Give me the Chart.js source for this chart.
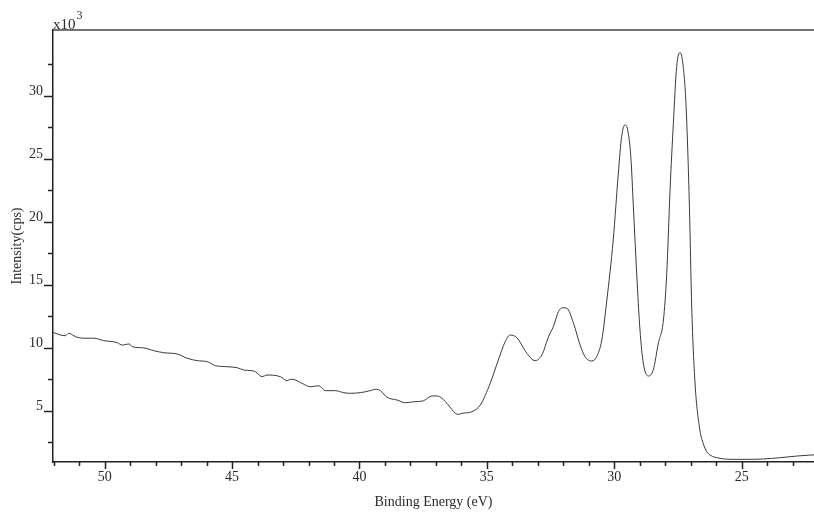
<!DOCTYPE html>
<html>
<head>
<meta charset="utf-8">
<title>Binding Energy spectrum</title>
<script src="https://cdn.jsdelivr.net/npm/chart.js@4/dist/chart.umd.min.js"></script>
<style>
    html, body { margin: 0; padding: 0; background: #fff; }
    #wrap { position: relative; width: 814px; height: 516px; }
</style>
</head>
<body>
<div id="wrap"><canvas id="spectrum"></canvas></div>
<script>
// Binding energy (eV), high to low as scanned
const energies = [
    52.01, 51.73, 51.54, 51.41, 51.14, 50.82, 50.43, 50.05, 49.51, 49.31,
    49.05, 48.92, 48.47, 48.07, 47.68, 47.16, 46.76, 46.37, 45.98, 45.65,
    45.20, 44.80, 44.55, 44.22, 44.09, 43.82, 43.63, 43.11, 42.84, 42.71,
    42.52, 42.25, 41.93, 41.60, 41.34, 40.95, 40.62, 40.36, 39.97, 39.64,
    39.34, 39.18, 38.92, 38.53, 38.20, 37.88, 37.49, 37.16, 36.96, 36.76,
    36.51, 36.24, 36.11, 35.98, 35.59, 35.26, 34.87, 34.55, 34.28, 34.09,
    33.82, 33.63, 33.43, 33.11, 32.84, 32.58, 32.39, 32.19, 32.02, 31.86,
    31.60, 31.34, 31.15, 30.88, 30.69, 30.49, 30.29, 30.04, 29.84, 29.71,
    29.58, 29.49, 29.35, 29.25, 29.12, 28.99, 28.86, 28.66, 28.47, 28.27,
    28.07, 27.94, 27.81, 27.68, 27.55, 27.42, 27.31, 27.18, 27.05, 26.96,
    26.83, 26.64, 26.51, 26.37, 26.24, 25.85, 25.33, 24.80, 24.15, 23.50,
    22.84, 22.32, 22.16
];

// Intensity in units of 10^3 cps
const intensities = [
    11.20, 11.00, 10.95, 11.14, 10.87, 10.75, 10.75, 10.56, 10.40, 10.20,
    10.30, 10.08, 9.98, 9.76, 9.60, 9.50, 9.16, 8.97, 8.89, 8.57,
    8.49, 8.41, 8.23, 8.17, 8.10, 7.70, 7.83, 7.70, 7.38, 7.49,
    7.44, 7.17, 6.90, 6.98, 6.59, 6.59, 6.43, 6.38, 6.43, 6.56,
    6.70, 6.59, 6.06, 5.85, 5.63, 5.71, 5.79, 6.17, 6.17, 5.98,
    5.45, 4.79, 4.71, 4.79, 4.92, 5.45, 7.17, 9.02, 10.48, 11.00,
    10.79, 10.21, 9.56, 8.97, 9.42, 10.87, 11.67, 12.86, 13.17, 13.13,
    11.94, 10.21, 9.29, 8.94, 9.29, 10.60, 13.79, 18.55, 23.84, 26.75,
    27.67, 27.41, 25.16, 21.19, 15.90, 11.40, 8.76, 7.75, 8.23, 10.35,
    12.20, 15.90, 22.50, 27.80, 32.30, 33.41, 32.57, 29.13, 21.19, 13.25,
    7.20, 3.47, 2.41, 1.75, 1.48, 1.22, 1.14, 1.14, 1.17, 1.27,
    1.40, 1.48, 1.50
];

const xTicks = [];
for (let v = 23; v <= 52; v++) xTicks.push(v);
const yTicks = [2.5, 5, 7.5, 10, 12.5, 15, 17.5, 20, 22.5, 25, 27.5, 30, 32.5];

const points = energies.map((e, i) => ({ x: e, y: intensities[i] }));

const serif = "'Liberation Serif', 'Times New Roman', serif";
Chart.defaults.font.family = serif;
Chart.defaults.color = "#2a2a2a";

// tick marks, top frame line and the x10^3 multiplier
const axisDecor = {
    id: "axisDecor",
    afterDraw(chart) {
        const ctx = chart.ctx;
        const area = chart.chartArea;
        const xs = chart.scales.x;
        const ys = chart.scales.y;
        ctx.save();
        ctx.strokeStyle = "#222";
        ctx.lineWidth = 1.5;
        ctx.beginPath();
        xTicks.forEach(v => {
            const px = Math.round(xs.getPixelForValue(v)) + 0.5;
            const len = v % 5 === 0 ? 7 : 4;
            ctx.moveTo(px, area.bottom);
            ctx.lineTo(px, area.bottom + len);
        });
        yTicks.forEach(v => {
            const py = Math.round(ys.getPixelForValue(v)) + 0.5;
            const len = v % 5 === 0 ? 9 : 5;
            ctx.moveTo(area.left, py);
            ctx.lineTo(area.left - len, py);
        });
        ctx.stroke();

        ctx.strokeStyle = "#444";
        ctx.beginPath();
        ctx.moveTo(area.left, area.top);
        ctx.lineTo(chart.width, area.top);
        ctx.stroke();

        ctx.fillStyle = "#2a2a2a";
        ctx.textBaseline = "alphabetic";
        ctx.textAlign = "left";
        ctx.font = "15px " + serif;
        ctx.fillText("x10", area.left, area.top - 1);
        const w = ctx.measureText("x10").width;
        ctx.font = "12px " + serif;
        ctx.fillText("3", area.left + w + 1, area.top - 11);
        ctx.restore();
    }
};

new Chart(document.getElementById("spectrum"), {
    type: "line",
    data: {
        datasets: [{
            data: points,
            borderColor: "#3a3a3a",
            borderWidth: 1,
            pointRadius: 0,
            fill: false,
            cubicInterpolationMode: "monotone"
        }]
    },
    options: {
        responsive: true,
        maintainAspectRatio: false,
        animation: false,
        layout: { padding: { top: 30, right: 0, left: 0, bottom: 0 } },
        plugins: {
            legend: { display: false },
            tooltip: { enabled: false }
        },
        scales: {
            x: {
                type: "linear",
                reverse: true,
                min: 22.16,
                max: 52.03,
                afterBuildTicks: scale => {
                    scale.ticks = xTicks.map(v => ({ value: v }));
                },
                afterFit: scale => { scale.height = 54; },
                ticks: {
                    autoSkip: false,
                    maxRotation: 0,
                    padding: 7,
                    font: { size: 14 },
                    callback: v => (v % 5 === 0 ? String(v) : "")
                },
                grid: { display: false, drawTicks: false },
                border: { display: true, color: "#222", width: 1.5 },
                title: {
                    display: true,
                    text: "Binding Energy (eV)",
                    font: { size: 14 },
                    padding: { top: 0, bottom: 5 }
                }
            },
            y: {
                type: "linear",
                min: 0.93,
                max: 35.2,
                afterBuildTicks: scale => {
                    scale.ticks = yTicks.map(v => ({ value: v }));
                },
                afterFit: scale => { scale.width = 53; },
                ticks: {
                    autoSkip: false,
                    padding: 10,
                    labelOffset: -4,
                    font: { size: 14 },
                    callback: v => (v % 5 === 0 ? String(v) : "")
                },
                grid: { display: false, drawTicks: false },
                border: { display: true, color: "#222", width: 1.5 },
                title: {
                    display: true,
                    text: "Intensity(cps)",
                    font: { size: 14 },
                    padding: { top: 9, bottom: 0 }
                }
            }
        }
    },
    plugins: [axisDecor]
});
</script>
</body>
</html>
